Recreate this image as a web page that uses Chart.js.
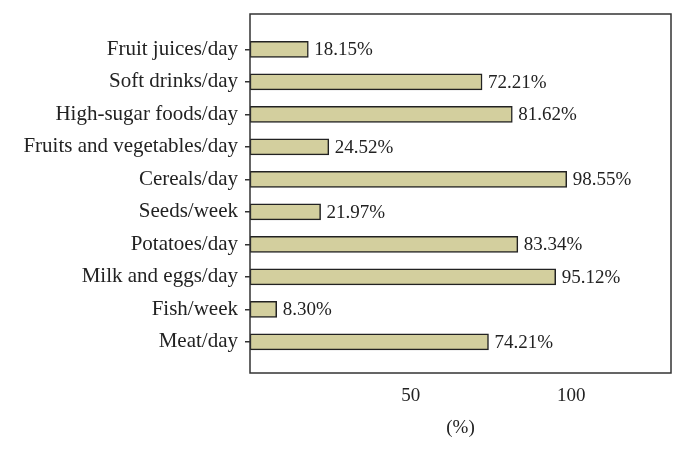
<!DOCTYPE html>
<html>
<head>
<meta charset="utf-8">
<style>
  html, body { margin: 0; padding: 0; background: #fff; }
  #wrap { width: 686px; height: 450px; }
</style>
<script src="https://cdn.jsdelivr.net/npm/chart.js@4.4.1/dist/chart.umd.min.js"></script>
<script type="text/javascript">
// chart data
var categories = ['Fruit juices/day', 'Soft drinks/day', 'High-sugar foods/day', 'Fruits and vegetables/day',
	'Cereals/day', 'Seeds/week', 'Potatoes/day', 'Milk and eggs/day', 'Fish/week', 'Meat/day'];
var percents = [18.15, 72.21, 81.62, 24.52, 98.55, 21.97, 83.34, 95.12, 8.30, 74.21];
var xTicks = [50, 100];

var serif = '"Liberation Serif", "DejaVu Serif", serif';

// box round the plot area
var framePlugin = {
	id: 'frame',
	afterDraw: function (chart) {
		var a = chart.chartArea, ctx = chart.ctx;
		ctx.save();
		ctx.strokeStyle = '#333';
		ctx.lineWidth = 1.5;
		ctx.strokeRect(a.left, a.top, a.right - a.left, a.bottom - a.top);
		ctx.restore();
	}
};

// percent text at the end of every bar
var valueLabels = {
	id: 'valueLabels',
	afterDatasetsDraw: function (chart) {
		var ctx = chart.ctx;
		var meta = chart.getDatasetMeta(0);
		ctx.save();
		ctx.font = '19px ' + serif;
		ctx.fillStyle = '#222';
		ctx.textAlign = 'left';
		ctx.textBaseline = 'middle';
		meta.data.forEach(function (bar, i) {
			ctx.fillText(percents[i].toFixed(2) + '%', bar.x + 6, bar.y + 1);
		});
		ctx.restore();
	}
};

document.addEventListener("DOMContentLoaded", function () {
	var points = percents.map(function (v, i) { return { x: v, y: i }; });

	new Chart(document.getElementById('myChart'), {
		type: 'bar',
		data: {
			datasets: [{
				data: points,
				backgroundColor: '#d3cf9e',
				borderColor: '#222',
				borderWidth: 1.5,
				borderSkipped: false,
				barThickness: 16
			}]
		},
		options: {
			indexAxis: 'y',
			responsive: false,
			animation: false,
			layout: { padding: { top: 14, right: 15, left: 0, bottom: 0 } },
			plugins: {
				legend: { display: false },
				tooltip: { enabled: false }
			},
			scales: {
				x: {
					type: 'linear',
					min: 0,
					max: 131,
					afterBuildTicks: function (scale) {
						scale.ticks = xTicks.map(function (v) { return { value: v }; });
					},
					afterFit: function (scale) { scale.height = 77; },
					grid: { display: false },
					border: { display: false },
					ticks: {
						color: '#222',
						padding: 4,
						font: { family: serif, size: 19 }
					},
					title: {
						display: true,
						text: '(%)',
						color: '#222',
						padding: { top: 6, bottom: 11 },
						font: { family: serif, size: 19 }
					}
				},
				y: {
					type: 'linear',
					reverse: true,
					offset: false,
					min: -1.09,
					max: 9.96,
					afterBuildTicks: function (scale) {
						scale.ticks = categories.map(function (c, i) { return { value: i }; });
					},
					afterFit: function (scale) {
						scale.width = 250;
						scale.paddingTop = 0;
						scale.paddingBottom = 0;
					},
					grid: {
						offset: false,
						drawOnChartArea: false,
						drawTicks: true,
						tickLength: 5,
						color: '#333',
						lineWidth: 1.5
					},
					border: { display: false },
					ticks: {
						color: '#222',
						padding: 7,
						font: { family: serif, size: 21 },
						callback: function (value) { return categories[value]; }
					}
				}
			}
		},
		plugins: [framePlugin, valueLabels]
	});
});
</script>
</head>
<body>
<div id="wrap">
	<canvas id="myChart" width="686" height="450"></canvas>
</div>
</body>
</html>
